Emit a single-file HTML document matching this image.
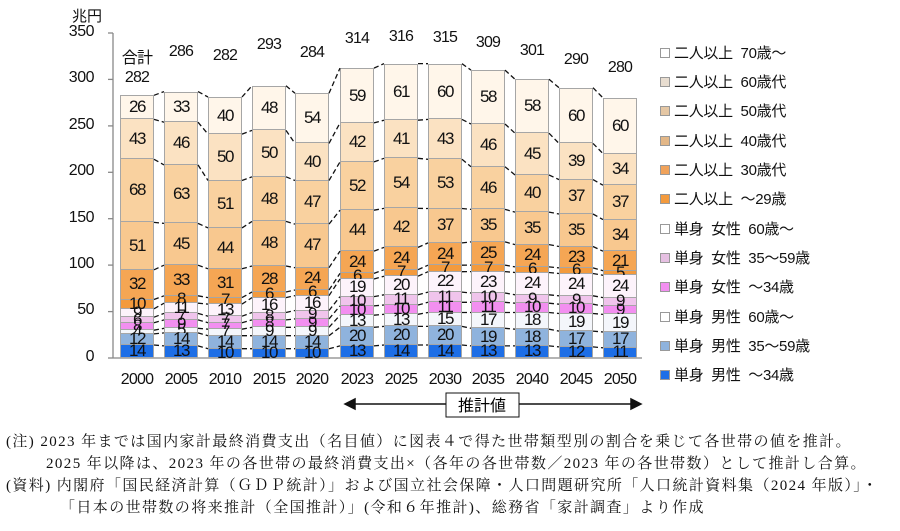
<!DOCTYPE html>
<html><head><meta charset="utf-8"><style>
body{margin:0;width:900px;height:531px;background:#fff;position:relative;overflow:hidden;font-family:"Liberation Sans","Noto Sans CJK JP",sans-serif;color:#111}
.a{position:absolute}
.bar{position:absolute;bottom:173px;width:34px;display:flex;flex-direction:column-reverse}
.bar i{display:block;font-style:normal;box-sizing:border-box;border:1px solid #a6a6a6;border-top-width:0;font-size:17px;letter-spacing:-1.5px;line-height:0;display:flex;align-items:center;justify-content:center;overflow:visible;white-space:nowrap}
.bar i:last-child{border-top-width:1px}
.s0{background:#1d6ee6}
.s1{background:#8fb3dd}
.s2{background:#f4f6fb}
.s3{background:#f28ff0}
.s4{background:#f0c4ec}
.s5{background:#fdf3fb}
.s6{background:#f39a3d}
.s7{background:#f5a654}
.s8{background:#f8c88f}
.s9{background:#f9d19f}
.s10{background:#fbe2c2}
.s11{background:#fff6ea}
.yl{position:absolute;left:56px;width:38px;text-align:right;font-size:16px;letter-spacing:-0.5px}
.xl{position:absolute;top:371px;width:44px;text-align:center;font-size:16px;letter-spacing:-0.8px}
.tot{position:absolute;width:44px;text-align:center;font-size:16px;letter-spacing:-0.8px}
.lg{position:absolute;left:660px;font-size:15px;white-space:pre;letter-spacing:-0.3px}
.lg b{display:inline-block;width:8px;height:8px;border:1px solid #999;margin-right:4px;vertical-align:middle;position:relative;top:-1px}
.n{position:absolute;font-size:15px;letter-spacing:1.4px;white-space:pre;font-family:"Liberation Serif","Noto Serif CJK SC",serif}
</style></head><body>
<div class="a" style="left:72px;top:5px;font-size:15px">兆円</div>
<div class="yl" style="top:23px">350</div>
<div class="yl" style="top:69px">300</div>
<div class="yl" style="top:116px">250</div>
<div class="yl" style="top:162px">200</div>
<div class="yl" style="top:209px">150</div>
<div class="yl" style="top:255px">100</div>
<div class="yl" style="top:301px">50</div>
<div class="yl" style="top:348px">0</div>
<svg class="a" style="left:0;top:0" width="900" height="531">
<g stroke="#888" stroke-width="1.3">
<line x1="113" y1="33" x2="113" y2="358"/>
<line x1="113" y1="358" x2="642" y2="358"/>
<line x1="108" y1="33" x2="113" y2="33"/><line x1="108" y1="79.4" x2="113" y2="79.4"/><line x1="108" y1="125.9" x2="113" y2="125.9"/><line x1="108" y1="172.3" x2="113" y2="172.3"/><line x1="108" y1="218.7" x2="113" y2="218.7"/><line x1="108" y1="265.1" x2="113" y2="265.1"/><line x1="108" y1="311.6" x2="113" y2="311.6"/><line x1="108" y1="358" x2="113" y2="358"/>
</g>
<g stroke="#111" stroke-width="1.5" fill="#111">
<line x1="347" y1="404" x2="638" y2="404"/>
<polygon points="345,404 355,399 355,409"/>
<polygon points="641,404 631,399 631,409"/>
</g>
<rect x="446" y="393" width="73" height="24" fill="#fff" stroke="#111"/>
<text x="482" y="411" text-anchor="middle" font-size="16" font-family="Liberation Sans,Noto Sans CJK JP,sans-serif">推計値</text>
</svg>

<div class="bar" style="left:120px"><i class="s0" style="height:13px">14</i><i class="s1" style="height:11.1px">12</i><i class="s2" style="height:3.7px">4</i><i class="s3" style="height:7.4px">8</i><i class="s4" style="height:5.6px">6</i><i class="s5" style="height:8.4px">9</i><i class="s6" style="height:9.3px">10</i><i class="s7" style="height:29.7px">32</i><i class="s8" style="height:47.4px">51</i><i class="s9" style="height:63.1px">68</i><i class="s10" style="height:39.9px">43</i><i class="s11" style="height:24.1px">26</i></div>
<div class="bar" style="left:164px"><i class="s0" style="height:12.1px">13</i><i class="s1" style="height:13px">14</i><i class="s2" style="height:4.6px">5</i><i class="s3" style="height:8.4px">9</i><i class="s4" style="height:6.5px">7</i><i class="s5" style="height:10.2px">11</i><i class="s6" style="height:7.4px">8</i><i class="s7" style="height:30.6px">33</i><i class="s8" style="height:41.8px">45</i><i class="s9" style="height:58.5px">63</i><i class="s10" style="height:42.7px">46</i><i class="s11" style="height:30.6px">33</i></div>
<div class="bar" style="left:208px"><i class="s0" style="height:9.3px">10</i><i class="s1" style="height:13px">14</i><i class="s2" style="height:6.5px">7</i><i class="s3" style="height:6.5px">7</i><i class="s4" style="height:6.5px">7</i><i class="s5" style="height:12.1px">13</i><i class="s6" style="height:6.5px">7</i><i class="s7" style="height:28.8px">31</i><i class="s8" style="height:40.9px">44</i><i class="s9" style="height:47.4px">51</i><i class="s10" style="height:46.4px">50</i><i class="s11" style="height:37.1px">40</i></div>
<div class="bar" style="left:252px"><i class="s0" style="height:9.3px">10</i><i class="s1" style="height:13px">14</i><i class="s2" style="height:8.4px">9</i><i class="s3" style="height:7.4px">8</i><i class="s4" style="height:7.4px">8</i><i class="s5" style="height:14.9px">16</i><i class="s6" style="height:5.6px">6</i><i class="s7" style="height:26px">28</i><i class="s8" style="height:44.6px">48</i><i class="s9" style="height:44.6px">48</i><i class="s10" style="height:46.4px">50</i><i class="s11" style="height:44.6px">48</i></div>
<div class="bar" style="left:295px"><i class="s0" style="height:9.3px">10</i><i class="s1" style="height:13px">14</i><i class="s2" style="height:8.4px">9</i><i class="s3" style="height:8.4px">9</i><i class="s4" style="height:8.4px">9</i><i class="s5" style="height:14.9px">16</i><i class="s6" style="height:5.6px">6</i><i class="s7" style="height:22.3px">24</i><i class="s8" style="height:43.6px">47</i><i class="s9" style="height:43.6px">47</i><i class="s10" style="height:37.1px">40</i><i class="s11" style="height:50.1px">54</i></div>
<div class="bar" style="left:340px"><i class="s0" style="height:12.1px">13</i><i class="s1" style="height:18.6px">20</i><i class="s2" style="height:12.1px">13</i><i class="s3" style="height:9.3px">10</i><i class="s4" style="height:9.3px">10</i><i class="s5" style="height:17.6px">19</i><i class="s6" style="height:5.6px">6</i><i class="s7" style="height:22.3px">24</i><i class="s8" style="height:40.9px">44</i><i class="s9" style="height:48.3px">52</i><i class="s10" style="height:39px">42</i><i class="s11" style="height:54.8px">59</i></div>
<div class="bar" style="left:384px"><i class="s0" style="height:13px">14</i><i class="s1" style="height:18.6px">20</i><i class="s2" style="height:12.1px">13</i><i class="s3" style="height:9.3px">10</i><i class="s4" style="height:10.2px">11</i><i class="s5" style="height:18.6px">20</i><i class="s6" style="height:6.5px">7</i><i class="s7" style="height:22.3px">24</i><i class="s8" style="height:39px">42</i><i class="s9" style="height:50.1px">54</i><i class="s10" style="height:38.1px">41</i><i class="s11" style="height:56.6px">61</i></div>
<div class="bar" style="left:428px"><i class="s0" style="height:13px">14</i><i class="s1" style="height:18.6px">20</i><i class="s2" style="height:13.9px">15</i><i class="s3" style="height:10.2px">11</i><i class="s4" style="height:10.2px">11</i><i class="s5" style="height:20.4px">22</i><i class="s6" style="height:6.5px">7</i><i class="s7" style="height:22.3px">24</i><i class="s8" style="height:34.4px">37</i><i class="s9" style="height:49.2px">53</i><i class="s10" style="height:39.9px">43</i><i class="s11" style="height:55.7px">60</i></div>
<div class="bar" style="left:471px"><i class="s0" style="height:12.1px">13</i><i class="s1" style="height:17.6px">19</i><i class="s2" style="height:15.8px">17</i><i class="s3" style="height:10.2px">11</i><i class="s4" style="height:9.3px">10</i><i class="s5" style="height:21.4px">23</i><i class="s6" style="height:6.5px">7</i><i class="s7" style="height:23.2px">25</i><i class="s8" style="height:32.5px">35</i><i class="s9" style="height:42.7px">46</i><i class="s10" style="height:42.7px">46</i><i class="s11" style="height:53.9px">58</i></div>
<div class="bar" style="left:515px"><i class="s0" style="height:12.1px">13</i><i class="s1" style="height:16.7px">18</i><i class="s2" style="height:16.7px">18</i><i class="s3" style="height:9.3px">10</i><i class="s4" style="height:8.4px">9</i><i class="s5" style="height:22.3px">24</i><i class="s6" style="height:5.6px">6</i><i class="s7" style="height:22.3px">24</i><i class="s8" style="height:32.5px">35</i><i class="s9" style="height:37.1px">40</i><i class="s10" style="height:41.8px">45</i><i class="s11" style="height:53.9px">58</i></div>
<div class="bar" style="left:559px"><i class="s0" style="height:11.1px">12</i><i class="s1" style="height:15.8px">17</i><i class="s2" style="height:17.6px">19</i><i class="s3" style="height:9.3px">10</i><i class="s4" style="height:8.4px">9</i><i class="s5" style="height:22.3px">24</i><i class="s6" style="height:5.6px">6</i><i class="s7" style="height:21.4px">23</i><i class="s8" style="height:32.5px">35</i><i class="s9" style="height:34.4px">37</i><i class="s10" style="height:36.2px">39</i><i class="s11" style="height:55.7px">60</i></div>
<div class="bar" style="left:603px"><i class="s0" style="height:10.2px">11</i><i class="s1" style="height:15.8px">17</i><i class="s2" style="height:17.6px">19</i><i class="s3" style="height:8.4px">9</i><i class="s4" style="height:8.4px">9</i><i class="s5" style="height:22.3px">24</i><i class="s6" style="height:4.6px">5</i><i class="s7" style="height:19.5px">21</i><i class="s8" style="height:31.6px">34</i><i class="s9" style="height:34.4px">37</i><i class="s10" style="height:31.6px">34</i><i class="s11" style="height:55.7px">60</i></div>

<div class="tot" style="left:115px;top:44px">合計</div>
<div class="tot" style="left:115px;top:69px">282</div>
<div class="tot" style="left:159px;top:43px">286</div>
<div class="tot" style="left:203px;top:47px">282</div>
<div class="tot" style="left:247px;top:36px">293</div>
<div class="tot" style="left:290px;top:44px">284</div>
<div class="tot" style="left:335px;top:30px">314</div>
<div class="tot" style="left:379px;top:28px">316</div>
<div class="tot" style="left:423px;top:29px">315</div>
<div class="tot" style="left:466px;top:34px">309</div>
<div class="tot" style="left:510px;top:42px">301</div>
<div class="tot" style="left:554px;top:51px">290</div>
<div class="tot" style="left:598px;top:59px">280</div>

<div class="xl" style="left:115px">2000</div><div class="xl" style="left:159px">2005</div><div class="xl" style="left:203px">2010</div><div class="xl" style="left:247px">2015</div><div class="xl" style="left:290px">2020</div><div class="xl" style="left:335px">2023</div><div class="xl" style="left:379px">2025</div><div class="xl" style="left:423px">2030</div><div class="xl" style="left:466px">2035</div><div class="xl" style="left:510px">2040</div><div class="xl" style="left:554px">2045</div><div class="xl" style="left:598px">2050</div>

<div class="lg" style="top:42px"><b style="background:#fff"></b>二人以上  70歳～</div>
<div class="lg" style="top:71px"><b style="background:#e8ddd0"></b>二人以上  60歳代</div>
<div class="lg" style="top:100px"><b style="background:#e5c7a4"></b>二人以上  50歳代</div>
<div class="lg" style="top:130px"><b style="background:#e3b787"></b>二人以上  40歳代</div>
<div class="lg" style="top:159px"><b style="background:#f0a25a"></b>二人以上  30歳代</div>
<div class="lg" style="top:188px"><b style="background:#f39a3d"></b>二人以上  ～29歳</div>
<div class="lg" style="top:218px"><b style="background:#fff"></b>単身  女性  60歳～</div>
<div class="lg" style="top:247px"><b style="background:#e6c0e2"></b>単身  女性  35～59歳</div>
<div class="lg" style="top:276px"><b style="background:#f28ff0"></b>単身  女性  ～34歳</div>
<div class="lg" style="top:306px"><b style="background:#fff"></b>単身  男性  60歳～</div>
<div class="lg" style="top:335px"><b style="background:#8fb3dd"></b>単身  男性  35～59歳</div>
<div class="lg" style="top:364px"><b style="background:#1d6ee6"></b>単身  男性  ～34歳</div>

<div class="n" style="left:6px;top:430px">(注) 2023 年までは国内家計最終消費支出（名目値）に図表４で得た世帯類型別の割合を乗じて各世帯の値を推計。</div>
<div class="n" style="left:46px;top:452px">2025 年以降は、2023 年の各世帯の最終消費支出×（各年の各世帯数／2023 年の各世帯数）として推計し合算。</div>
<div class="n" style="left:6px;top:474px">(資料) 内閣府「国民経済計算（ＧＤＰ統計）」および国立社会保障・人口問題研究所「人口統計資料集（2024 年版）」・</div>
<div class="n" style="left:60px;top:496px">「日本の世帯数の将来推計（全国推計）」(令和６年推計)、総務省「家計調査」より作成</div>

<svg class="a" style="left:0;top:0;pointer-events:none" width="900" height="531" id="dl"></svg>
<script>
var bars=[].slice.call(document.querySelectorAll('.bar')),s='';
var cum=bars.map(function(b){var c=[],t=0;[].slice.call(b.children).forEach(function(i){t+=parseFloat(i.style.height);c.push(t)});return c});
for(var j=0;j<bars.length-1;j++){var x1=parseFloat(bars[j].style.left)+34,x2=parseFloat(bars[j+1].style.left);
for(var k=0;k<12;k++){s+='<line x1="'+x1+'" y1="'+(358-cum[j][k])+'" x2="'+x2+'" y2="'+(358-cum[j+1][k])+'" stroke="#111" stroke-width="1.3" stroke-dasharray="5,3"/>';}}
document.getElementById('dl').innerHTML=s;
</script>
</body></html>
